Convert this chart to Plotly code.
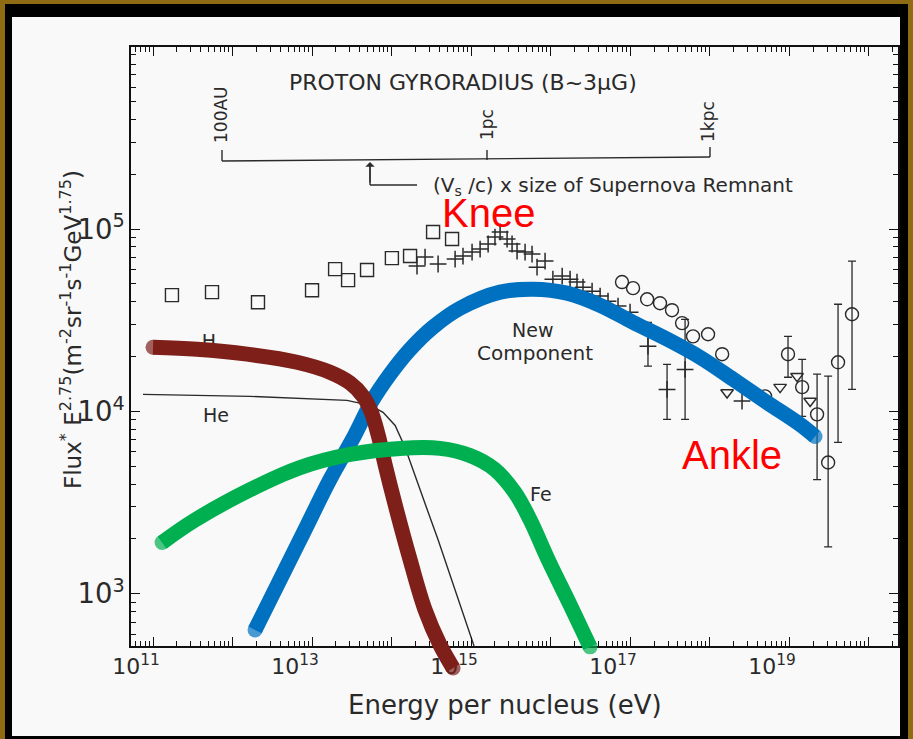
import plotly.graph_objects as go

# ---------------- data ----------------
# open squares (direct measurements, low energy)
sq_E = [1.73e11, 5.52e11, 2.09e12, 1.0e13, 1.95e13, 2.84e13, 4.92e13, 1.01e14, 1.71e14, 3.33e14, 5.77e14]
sq_F = [4.34e4, 4.51e4, 3.97e4, 4.62e4, 6.03e4, 5.25e4, 5.96e4, 6.93e4, 7.11e4, 9.63e4, 8.82e4]

# crosses (air shower data)
cr_E = [2.09e14, 2.64e14, 3.85e14, 6.30e14, 7.92e14, 1.03e15, 1.30e15, 1.64e15, 2.00e15, 2.32e15,
        2.84e15, 3.28e15, 3.79e15, 4.78e15, 5.85e15, 6.76e15, 8.53e15, 1.07e16, 1.40e16, 1.76e16,
        2.15e16, 2.56e16, 3.33e16, 4.20e16, 5.28e16, 7.06e16, 1.0e17, 2.56e18]
cr_F = [6.27e4, 7.02e4, 6.43e4, 6.84e4, 7.11e4, 7.48e4, 7.76e4, 8.28e4, 9.04e4, 9.64e4,
        8.81e4, 8.28e4, 7.57e4, 7.48e4, 7.29e4, 6.18e4, 6.67e4, 5.31e4, 5.52e4, 5.31e4,
        5.12e4, 4.80e4, 4.56e4, 4.29e4, 4.02e4, 3.78e4, 3.50e4, 1.14e4]
# crosses with error bars
cre_E = [1.68e17, 2.92e17, 4.92e17]
cre_F = [2.28e4, 1.32e4, 1.70e4]
cre_hi = [3.08e4, 1.81e4, 3.20e4]
cre_lo = [1.77e4, 9.04e3, 9.04e3]

# open circles
ci_E = [7.92e16, 1.09e17, 1.64e17, 2.38e17, 3.37e17, 4.51e17, 6.19e17, 9.57e17, 1.44e18, 4.99e18]
ci_F = [5.12e4, 4.74e4, 4.12e4, 3.92e4, 3.59e4, 3.05e4, 2.58e4, 2.65e4, 2.06e4, 1.21e4]
# open circles with error bars
cie_E = [9.70e18, 1.46e19, 2.25e19, 3.10e19, 4.13e19, 6.19e19]
cie_F = [2.06e4, 1.36e4, 9.64e3, 5.25e3, 1.86e4, 3.41e4]
cie_hi = [2.58e4, 1.93e4, 1.60e4, 1.56e4, 3.87e4, 6.67e4]
cie_lo = [1.54e4, 9.40e3, 4.23e3, 1.81e3, 6.76e3, 1.32e4]

# open down-triangles
tr_E = [1.66e18, 7.71e18, 1.26e19, 1.84e19]
tr_F = [1.27e4, 1.36e4, 1.56e4, 1.14e4]

# thin He spectrum line
he_E = [7.48e10, 1.66e12, 2.75e13, 5.37e13, 7.82e13, 1.11e14, 1.48e14, 2.15e14, 3.05e14,
        3.85e14, 6.30e14, 1.03e15, 1.09e15]
he_F = [1.24e4, 1.21e4, 1.15e4, 1.08e4, 9.88e3, 8.38e3, 6.34e3, 3.97e3, 2.62e3,
        1.98e3, 1.05e3, 558, 518]

# thick hand-drawn components
red_E = [1.0e11, 3.57e11, 1.52e12, 6.47e12, 1.68e13, 3.01e13, 4.39e13, 5.52e13, 6.76e13,
         8.28e13, 1.11e14, 1.71e14, 2.64e14, 4.07e14, 5.94e14]
red_F = [2.25e4, 2.19e4, 2.06e4, 1.86e4, 1.64e4, 1.43e4, 1.21e4, 1.0e4, 7.48e3,
         5.12e3, 3.08e3, 1.54e3, 817, 525, 392]

green_E = [1.30e11, 3.28e11, 1.66e12, 7.06e12, 3.01e13, 1.28e14, 4.07e14, 9.70e14, 2.00e15,
           3.57e15, 5.52e15, 9.31e15, 1.76e16, 3.14e16]
green_F = [1.91e3, 2.52e3, 3.72e3, 4.92e3, 5.81e3, 6.27e3, 6.27e3, 5.73e3, 4.80e3,
           3.59e3, 2.55e3, 1.54e3, 871, 512]

blue_E = [1.92e12, 7.06e12, 1.68e13, 3.48e13, 5.69e13, 9.57e13, 1.71e14, 3.33e14, 7.28e14,
          2.32e15, 6.03e15, 1.61e16, 4.20e16, 1.09e17, 2.92e17, 7.60e17, 1.98e18, 5.28e18,
          1.37e19, 2.12e19]
blue_F = [634, 1.98e3, 4.23e3, 7.48e3, 1.14e4, 1.60e4, 2.19e4, 2.90e4, 3.68e4,
          4.51e4, 4.68e4, 4.45e4, 3.82e4, 3.08e4, 2.49e4, 1.98e4, 1.50e4, 1.12e4,
          8.49e3, 7.29e3]

h_label_E = [5.06e11]
h_label_F = [2.37e4]

x_decades = list(range(10, 21))
x_label_decades = [11, 13, 15, 17, 19]

# ---------------- layout geometry ----------------
W, H = 913, 739
ML, MR, MT, MB = 131, 15, 47, 49
PW = W - ML - MR
PH = H - MT - MB
AX_BOTTOM = 646

def pxx(px):
    return (px - ML) / PW

def pxy(py):
    return (H - MB - py) / PH

X_RANGE = [10.723, 20.37]
Y_RANGE = [2.714, 5.998]
d0 = pxy(AX_BOTTOM)
y2_bottom = Y_RANGE[1] - (Y_RANGE[1] - Y_RANGE[0]) / (1 - d0)

INK = "#2a2a2a"
FONT = "DejaVu Sans"


def err(F, hi, lo):
    return dict(type="data", symmetric=False,
                array=[h - f for h, f in zip(hi, F)],
                arrayminus=[f - l for l, f in zip(lo, F)],
                color=INK, thickness=1.3, width=4)


fig = go.Figure()

# ---- subplot 1: original figure content ----
fig.add_trace(go.Scatter(x=he_E, y=he_F, mode="lines", line=dict(color=INK, width=1.4)))
fig.add_trace(go.Scatter(x=sq_E, y=sq_F, mode="markers",
                         marker=dict(symbol="square-open", size=13, color=INK, line=dict(width=1.4))))
cross_marker = dict(symbol="cross-thin-open", size=12, color=INK, line=dict(width=1.5, color=INK))
fig.add_trace(go.Scatter(x=cr_E, y=cr_F, mode="markers", marker=cross_marker))
fig.add_trace(go.Scatter(x=cre_E, y=cre_F, mode="markers", marker=cross_marker,
                         error_y=err(cre_F, cre_hi, cre_lo)))
circ_marker = dict(symbol="circle-open", size=13, color=INK, line=dict(width=1.4))
fig.add_trace(go.Scatter(x=ci_E, y=ci_F, mode="markers", marker=circ_marker))
fig.add_trace(go.Scatter(x=cie_E, y=cie_F, mode="markers", marker=circ_marker,
                         error_y=err(cie_F, cie_hi, cie_lo)))
fig.add_trace(go.Scatter(x=tr_E, y=tr_F, mode="markers",
                         marker=dict(symbol="triangle-down-open", size=11, color=INK, line=dict(width=1.4))))
fig.add_trace(go.Scatter(x=h_label_E, y=h_label_F, mode="text", text=["H"],
                         textfont=dict(family=FONT, size=19, color=INK)))

# ---- subplot 2 (same scales, taller clip box): thick coloured curves ----
LW = 15
for E, F, col in [(blue_E, blue_F, "#0070C0"), (red_E, red_F, "#7E1F1A"), (green_E, green_F, "#00B050")]:
    sizes = [LW] + [0] * (len(E) - 2) + [LW]
    fig.add_trace(go.Scatter(x=E, y=F, mode="lines+markers", xaxis="x2", yaxis="y2",
                             line=dict(color=col, width=LW, shape="spline", smoothing=1.0),
                             marker=dict(size=sizes, color=col, line=dict(width=0))))

common = dict(
    type="log", showline=True, linecolor="#111", linewidth=1.6, mirror="allticks",
    ticks="inside", ticklen=9, tickwidth=1.2, tickcolor="#111", showgrid=False, zeroline=False,
    tickfont=dict(family=FONT, size=22, color=INK),
)

x_tickvals = [10.0 ** k for k in x_decades]
x_ticktext = ["10<sup>%d</sup>" % k if k in x_label_decades else "" for k in x_decades]
x_minor = [m * 10.0 ** k for k in x_decades for m in range(2, 10)]

annotations = []

def txt(text, px, py, size, color=INK, family=FONT, angle=0, xanchor="center"):
    annotations.append(dict(text=text, x=pxx(px), y=pxy(py), xref="paper", yref="paper",
                            showarrow=False, textangle=angle, xanchor=xanchor, yanchor="middle",
                            font=dict(family=family, size=size, color=color)))

txt("PROTON GYRORADIUS (B~3μG)", 463, 82, 22)
txt("100AU", 221, 115, 17, angle=-90)
txt("1pc", 487, 125, 17, angle=-90)
txt("1kpc", 708, 122, 17, angle=-90)
txt("(V<sub>s</sub> /c) x size of Supernova Remnant", 431, 186, 20, xanchor="left")
txt("Knee", 488, 213, 40, color="#FF0000", family="Liberation Sans")
txt("Ankle", 732, 455, 40, color="#FF0000", family="Liberation Sans")
txt("New", 532, 330, 19)
txt("Component", 535, 353, 20)
txt("He", 216, 415, 19)
txt("Fe", 541, 494, 19)
txt("Energy per nucleus (eV)", 505, 705, 26)
txt("Flux<sup>*</sup> E<sup>2.75</sup>(m<sup>-2</sup>sr<sup>-1</sup>s<sup>-1</sup>GeV<sup>1.75</sup>)",
    71, 330, 23, angle=-90)

# arrowhead of the SNR pointer
annotations.append(dict(x=pxx(370), y=pxy(162), xref="paper", yref="paper", text="",
                        showarrow=True, ax=0, ay=22, arrowhead=1, arrowsize=1.2,
                        arrowwidth=1.3, arrowcolor=INK))

shapes = [
    dict(type="rect", xref="paper", yref="paper", x0=pxx(5), x1=pxx(908), y0=pxy(745), y1=pxy(4),
         fillcolor="#000000", line=dict(width=0), layer="below"),
    dict(type="rect", xref="paper", yref="paper", x0=pxx(12), x1=pxx(900), y0=pxy(736), y1=pxy(17),
         fillcolor="#F9F9F9", line=dict(width=0), layer="below"),
]

def seg(x0, y0, x1, y1):
    shapes.append(dict(type="line", xref="paper", yref="paper", x0=pxx(x0), y0=pxy(y0),
                       x1=pxx(x1), y1=pxy(y1), line=dict(color=INK, width=1.4)))

seg(222, 161, 710, 157)
seg(222, 161, 222, 150)
seg(487, 160, 487, 150)
seg(710, 157, 710, 147)
seg(370, 185, 417, 185)
seg(370, 185, 370, 166)

fig.update_layout(
    width=W, height=H,
    margin=dict(l=ML, r=MR, t=MT, b=MB, pad=0),
    paper_bgcolor="#8F6B14",
    plot_bgcolor="rgba(0,0,0,0)",
    xaxis=dict(**common, range=X_RANGE, domain=[0, 1], anchor="y",
               tickmode="array", tickvals=x_tickvals, ticktext=x_ticktext, ticklabelshift=-17,
               minor=dict(ticks="inside", ticklen=5, tickwidth=1, tickcolor="#111",
                          tickmode="array", tickvals=x_minor, showgrid=False)),
    yaxis=dict(**common, range=Y_RANGE, domain=[d0, 1], anchor="x",
               tickmode="linear", dtick=1, exponentformat="power", showexponent="all",
               minor=dict(ticks="inside", ticklen=5, tickwidth=1, tickcolor="#111", dtick="D1",
                          showgrid=False)),
    xaxis2=dict(type="log", range=X_RANGE, domain=[0, 1], anchor="y2", visible=False),
    yaxis2=dict(type="log", range=[y2_bottom, Y_RANGE[1]], domain=[0, 1], anchor="x2", visible=False),
    annotations=annotations,
    shapes=shapes,
    showlegend=False,
)

fig.write_html("out.html", config={"displayModeBar": False},
               post_script="document.body.style.margin='0px';")
